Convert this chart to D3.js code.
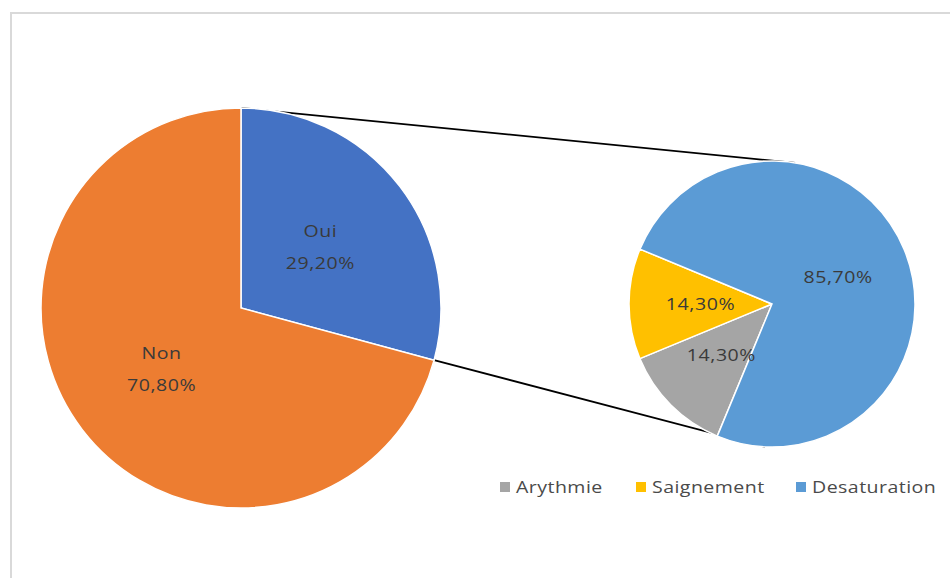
<!DOCTYPE html>
<html>
<head>
<meta charset="utf-8">
<script src="https://cdn.jsdelivr.net/npm/d3@7"></script>
<style>
  html, body { margin: 0; padding: 0; background: #fff; }
  svg { display: block; }
  text { font-family: "Open Sans", "Liberation Sans", sans-serif; }
</style>
</head>
<body>
<svg id="chart" width="950" height="578"></svg>
<script>
// ---- data ----
const mainCategories = ["Oui", "Non"];
const mainValues = [29.2, 70.8];
const mainLabels = ["29,20%", "70,80%"];
const subCategories = ["Arythmie", "Saignement", "Desaturation"];
const subValues = [14.3, 14.3, 85.7];
const subLabels = ["14,30%", "14,30%", "85,70%"];

// ---- styles ----
const mainColors = { "Oui": "#4472C4", "Non": "#ED7D31" };
const subColors = { "Arythmie": "#A5A5A5", "Saignement": "#FFC000", "Desaturation": "#5B9BD5" };
const deg = Math.PI / 180;
const sx = 1.15; // horizontal stretch of the text, as in the reference

const svg = d3.select("#chart");

// outer border (clipped at right/bottom like the reference)
svg.append("rect")
  .attr("x", 11).attr("y", 13).attr("width", 960).attr("height", 600)
  .attr("fill", "none").attr("stroke", "#d9d9d9").attr("stroke-width", 2);

// ---- main pie ----
const mainC = { x: 241, y: 308 }, mainR = 200;
const mainData = mainCategories.map((c, i) => ({ cat: c, value: mainValues[i], label: mainLabels[i] }));
const mainPie = d3.pie().sort(null).value(d => d.value).startAngle(0).endAngle(2 * Math.PI);
const mainArcs = mainPie(mainData);
const mainArc = d3.arc().innerRadius(0).outerRadius(mainR);

// ---- sub pie ----
const subC = { x: 772, y: 304 }, subR = 143;
const subData = subCategories.map((c, i) => ({ cat: c, value: subValues[i], label: subLabels[i] }));
const subStart = 202.5 * deg;
const subPie = d3.pie().sort(null).value(d => d.value).startAngle(subStart).endAngle(subStart + 2 * Math.PI);
const subArcs = subPie(subData);
const subArc = d3.arc().innerRadius(0).outerRadius(subR);

// connector lines
function pt(c, r, a) { return [c.x + r * Math.sin(a), c.y - r * Math.cos(a)]; }
const ouiArc = mainArcs[0];
const lines = [
  [pt(mainC, mainR, ouiArc.startAngle), pt(subC, subR, 9.3 * deg)],
  [pt(mainC, mainR, ouiArc.endAngle), pt(subC, subR, 182.8 * deg)]
];
svg.append("g").selectAll("line").data(lines).join("line")
  .attr("x1", d => d[0][0]).attr("y1", d => d[0][1])
  .attr("x2", d => d[1][0]).attr("y2", d => d[1][1])
  .attr("stroke", "#000").attr("stroke-width", 1.8);

const gMain = svg.append("g").attr("transform", `translate(${mainC.x},${mainC.y})`);
gMain.selectAll("path").data(mainArcs).join("path")
  .attr("d", mainArc)
  .attr("fill", d => mainColors[d.data.cat])
  .attr("stroke", "#fff").attr("stroke-width", 1.5);

const mainLbl = gMain.selectAll("g.lbl").data(mainArcs).join("g")
  .attr("class", "lbl")
  .attr("transform", d => `translate(${mainArc.centroid(d)}) scale(${sx},1)`);
mainLbl.append("text").attr("y", -16).attr("dy", "0.35em")
  .attr("text-anchor", "middle").attr("font-size", 17).attr("letter-spacing", 0.5)
  .attr("fill", "#3a3a3a").text(d => d.data.cat);
mainLbl.append("text").attr("y", 16).attr("dy", "0.35em")
  .attr("text-anchor", "middle").attr("font-size", 17).attr("letter-spacing", 0.5)
  .attr("fill", "#3a3a3a").text(d => d.data.label);

const gSub = svg.append("g").attr("transform", `translate(${subC.x},${subC.y})`);
gSub.selectAll("path").data(subArcs).join("path")
  .attr("d", subArc)
  .attr("fill", d => subColors[d.data.cat])
  .attr("stroke", "#fff").attr("stroke-width", 1.5);

gSub.selectAll("text").data(subArcs).join("text")
  .attr("transform", d => `translate(${subArc.centroid(d)}) scale(${sx},1)`)
  .attr("dy", "0.35em")
  .attr("text-anchor", "middle").attr("font-size", 17).attr("letter-spacing", 0.5)
  .attr("fill", "#3a3a3a").text(d => d.data.label);

// ---- legend ----
const legendX = [500, 636, 796];
const legend = svg.append("g").selectAll("g").data(subCategories).join("g")
  .attr("transform", (d, i) => `translate(${legendX[i]},487)`);
legend.append("rect").attr("x", 0).attr("y", -5).attr("width", 10).attr("height", 10)
  .attr("fill", d => subColors[d]);
legend.append("text").attr("transform", `translate(16,0) scale(${sx},1)`).attr("dy", "0.35em")
  .attr("font-size", 17).attr("letter-spacing", 0.4)
  .attr("fill", "#4a4a4a").text(d => d);
</script>
</body>
</html>
